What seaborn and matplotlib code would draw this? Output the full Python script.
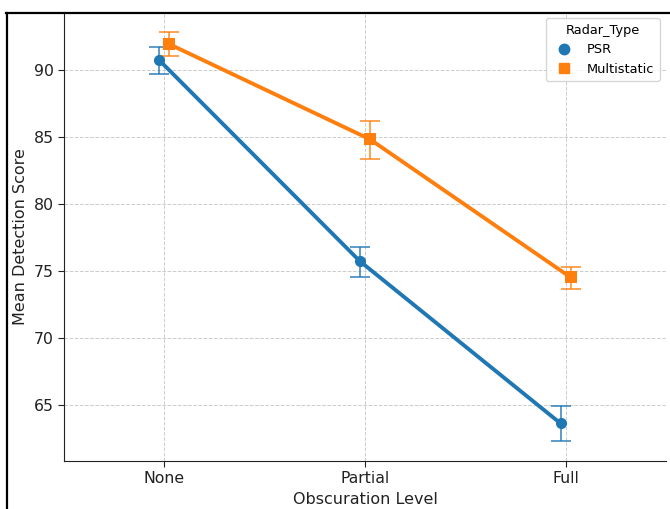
import pandas as pd
import numpy as np
import matplotlib
matplotlib.use("Agg")
import matplotlib.pyplot as plt
import seaborn as sns
from matplotlib.lines import Line2D

# уровни и типы радаров
levels = ["None", "Partial", "Full"]
radar_types = ["PSR", "Multistatic"]

# средние значения и границы доверительного интервала
psr_mean = [90.7, 75.7, 63.6]
psr_lo = [89.7, 74.5, 62.3]
psr_hi = [91.7, 76.8, 64.9]
multi_mean = [91.9, 84.8, 74.5]
multi_lo = [91.0, 83.3, 73.6]
multi_hi = [92.8, 86.2, 75.3]

colors = ["#1f77b4", "#ff7f0e"]
markers = ["o", "s"]

df = pd.DataFrame(
    {
        "Obscuration Level": levels * 2,
        "Radar_Type": [radar_types[0]] * 3 + [radar_types[1]] * 3,
        "Mean Detection Score": psr_mean + multi_mean,
    }
)
bounds = {"PSR": (psr_lo, psr_hi), "Multistatic": (multi_lo, multi_hi)}

fig = plt.figure(figsize=(6.7, 5.09), dpi=100)
ax = fig.add_axes([64 / 670, 48 / 509, 602 / 670, 449 / 509])

sns.pointplot(
    data=df,
    x="Obscuration Level",
    y="Mean Detection Score",
    hue="Radar_Type",
    order=levels,
    hue_order=radar_types,
    palette=colors,
    markers=markers,
    dodge=True,
    errorbar=None,
    legend=False,
    linewidth=2.8,
    markersize=8,
    markeredgewidth=0,
    ax=ax,
)

# доверительные интервалы с «усиками»
for line, rt, c in zip(ax.lines[:2], radar_types, colors):
    x = np.asarray(line.get_xdata(), dtype=float)
    y = np.asarray(line.get_ydata(), dtype=float)
    lo, hi = bounds[rt]
    ax.errorbar(
        x, y, yerr=[y - np.array(lo), np.array(hi) - y],
        fmt="none", ecolor=c, elinewidth=1.2, capsize=7.5, capthick=1.2,
        alpha=0.85, zorder=1,
    )

ax.set_xlim(-0.5, 2.5)
ax.set_ylim(60.8, 94.3)
ax.grid(True, linestyle="--", color="#cccccc", linewidth=0.7)
ax.set_axisbelow(True)
for s in ["top", "right"]:
    ax.spines[s].set_visible(False)
for s in ["left", "bottom"]:
    ax.spines[s].set_color("#222222")
ax.tick_params(labelsize=11.3, length=4, labelcolor="#222222", color="#222222")
ax.set_xlabel("Obscuration Level", fontsize=11.5, color="#222222")
ax.set_ylabel("Mean Detection Score", fontsize=11.5, color="#222222")

handles = [
    Line2D([], [], marker=m, linestyle="", color=c, markersize=7.5)
    for m, c in zip(markers, colors)
]
ax.legend(handles, radar_types, title="Radar_Type", loc="upper right",
          fontsize=9.3, title_fontsize=9.3)

# рамка скриншота
fig.add_artist(Line2D([6.5 / 670, 6.5 / 670], [0, 1 - 13 / 509], color="black", lw=1.6))
fig.add_artist(Line2D([6 / 670, 1], [1 - 13 / 509, 1 - 13 / 509], color="black", lw=1.6))

fig.savefig("out.png", dpi=100)
